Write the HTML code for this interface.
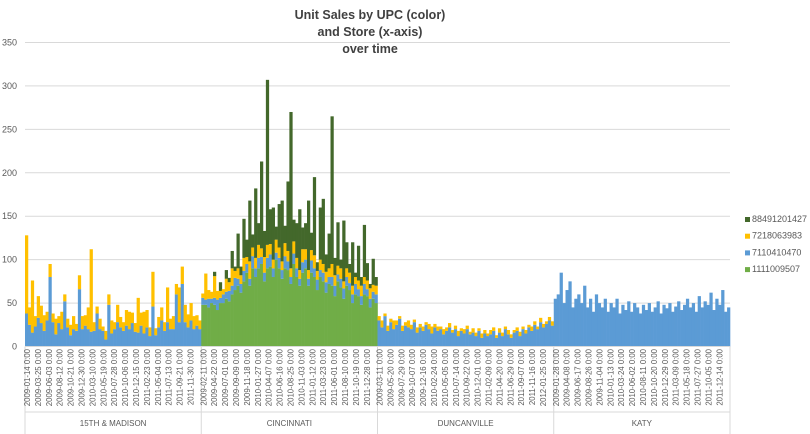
<!DOCTYPE html>
<html><head><meta charset="utf-8"><style>
body{margin:0;background:#fff;}
svg{display:block;font-family:"Liberation Sans",sans-serif;}
</style></head><body>
<svg id="chart" width="810" height="434">
<g font-weight="bold" font-size="12.5" fill="#404040" text-anchor="middle">
<text x="370" y="19">Unit Sales by UPC (color)</text>
<text x="370" y="36">and Store (x-axis)</text>
<text x="370" y="53">over time</text>
</g>
<g id="grid"></g>
<g id="yticks" font-size="9" fill="#595959" text-anchor="end"></g>
<g id="bars"></g>
<g id="xaxis"></g>
<g id="legend" font-size="9" fill="#595959"></g>
</svg>
<script>
const stores=["15TH & MADISON","CINCINNATI","DUNCANVILLE","KATY"];
const storeStartDates=["2009-01-14","2009-02-11","2009-03-11","2009-01-28"];
const seriesNames=["88491201427","7218063983","7110410470","1111009507"];
const yTicks=[0,50,100,150,200,250,300,350];
// per store: [green 1111009507, blue 7110410470, yellow 7218063983, darkgreen 88491201427]
const madGreen=new Array(60).fill(0);
const madBlue=[38,25,16,23,33,27,18,30,80,28,14,27,20,52,22,13,20,18,66,20,24,20,17,18,38,20,18,8,48,15,20,28,22,18,24,20,27,17,16,24,15,22,12,46,13,22,30,18,28,20,20,60,28,72,28,22,30,20,24,20];
const madYellow=[90,20,60,12,25,20,18,10,15,10,18,8,20,8,10,12,15,8,16,15,12,25,95,10,8,12,5,10,12,15,8,20,12,10,18,20,12,10,40,15,25,20,10,40,8,12,15,10,40,12,15,12,40,20,20,15,20,15,12,10];
const madDark=new Array(60).fill(0);
const cinGreen=[48,48,45,50,48,42,50,50,55,52,60,65,70,62,75,85,70,90,80,90,95,75,90,92,80,100,90,78,90,88,72,95,80,70,85,90,70,85,80,65,80,75,62,72,70,58,75,68,55,70,65,50,60,58,48,60,58,45,55,50];
const cinBlue=[8,6,10,5,8,12,6,10,8,12,10,14,8,10,12,10,8,14,10,12,8,10,12,14,10,8,12,10,14,10,8,12,10,8,12,10,8,14,10,12,8,10,12,8,10,12,8,10,12,10,8,10,12,8,10,12,8,10,8,10];
const cinYellow=[5,30,10,8,25,10,8,6,15,10,20,8,12,10,15,8,20,10,12,15,10,18,15,12,10,15,12,10,15,12,10,14,12,10,15,12,10,12,15,10,12,10,12,10,15,12,10,12,8,10,12,10,8,10,12,8,10,12,8,10];
const cinDark=[0,0,0,0,5,0,10,0,10,5,20,5,40,10,45,20,70,15,80,25,100,30,190,40,60,15,50,70,20,80,180,25,40,70,25,30,80,20,90,10,60,75,20,40,170,20,50,10,70,30,10,50,5,40,10,60,20,5,30,10];
const dunGreen=new Array(60).fill(0);
const dunBlue=[30,22,35,18,28,20,25,32,18,24,22,20,28,16,22,18,25,20,15,22,18,20,14,18,22,16,20,12,18,15,20,14,16,12,18,10,15,12,14,18,10,16,12,20,14,10,16,18,12,20,15,22,18,25,20,28,22,26,30,24];
const dunYellow=[5,8,3,6,4,10,5,3,6,4,8,5,3,6,4,5,3,6,8,4,5,3,6,4,5,3,4,6,3,5,4,3,5,4,3,5,4,3,5,4,3,5,4,3,5,4,3,4,5,3,4,3,5,4,3,5,4,3,4,5];
const dunDark=new Array(60).fill(0);
const katyGreen=new Array(60).fill(0);
const katyBlue=[55,60,85,50,65,75,45,55,60,50,70,45,55,40,60,50,45,55,40,50,45,55,38,48,42,52,40,50,45,38,48,42,50,40,45,52,38,48,44,50,40,46,52,42,48,55,45,50,40,58,45,52,48,62,42,55,48,65,40,45];
const katyYellow=new Array(60).fill(0);
const katyDark=new Array(60).fill(0);
const storeData=[[madGreen,madBlue,madYellow,madDark],[cinGreen,cinBlue,cinYellow,cinDark],[dunGreen,dunBlue,dunYellow,dunDark],[katyGreen,katyBlue,katyYellow,katyDark]];

const NS="http://www.w3.org/2000/svg";
const X0=25,X1=730,Y0=346.5,YMAX=350,YTOP=42.5;
const storeW=(X1-X0)/4;
const colors=["#70ad47","#5b9bd5","#ffc000","#43682b"];
function y(v){return Y0-(v/YMAX)*(Y0-YTOP);}
function mk(tag,attrs,parent){const e=document.createElementNS(NS,tag);for(const k in attrs)e.setAttribute(k,attrs[k]);parent.appendChild(e);return e;}

const grid=document.getElementById('grid'),yt=document.getElementById('yticks');
yTicks.forEach(t=>{
  if(t>0){const l=mk('line',{x1:X0,x2:X1,y1:y(t),y2:y(t),stroke:'#d9d9d9','stroke-width':1},grid);
  
  }
  const tx=mk('text',{x:17,y:y(t)+3},yt);tx.textContent=t;
  
  
});

const bars=document.getElementById('bars');
storeData.forEach((sd,s)=>{
  const n=sd[0].length,bw=storeW/n;
  for(let i=0;i<n;i++){
    let acc=0;
    for(let k=0;k<4;k++){
      const v=sd[k][i];if(!v)continue;
      const r=mk('rect',{x:X0+s*storeW+i*bw,y:y(acc+v),width:bw+0.3,height:y(acc)-y(acc+v),fill:colors[k]},bars);
      
      
      acc+=v;
    }
  }
});

const xa=document.getElementById('xaxis');
mk('line',{x1:X0,x2:X1,y1:Y0,y2:Y0,stroke:'#d9d9d9'},xa);
for(let s=0;s<=4;s++){mk('line',{x1:X0+s*storeW,x2:X0+s*storeW,y1:Y0,y2:434,stroke:'#d9d9d9'},xa);}
mk('line',{x1:X0,x2:X1,y1:412,y2:412,stroke:'#d9d9d9'},xa);
stores.forEach((st,s)=>{
  const t=mk('text',{x:X0+s*storeW+storeW/2,y:426,'font-size':8,fill:'#595959','text-anchor':'middle'},xa);
  t.textContent=st;
  
  
  const d0=new Date(storeStartDates[s]+"T00:00:00Z");
  for(let j=0;j<16;j++){
    const d=new Date(d0.getTime()+j*70*86400000);
    const lab=d.toISOString().slice(0,10)+' 0:00';
    const x=X0+s*storeW+5+j*10.9;
    const tl=mk('text',{x:0,y:0,'font-size':7.8,fill:'#595959','text-anchor':'end',transform:`translate(${x},349) rotate(-90)`},xa);
    tl.textContent=lab;
    
    
  }
});

const lg=document.getElementById('legend');
const legendColors=["#43682b","#ffc000","#5b9bd5","#70ad47"];
seriesNames.forEach((nm,i)=>{
  const yy=222+i*16.7;
  const r=mk('rect',{x:745,y:yy-5,width:5,height:5,fill:legendColors[i]},lg);
  
  
  const t=mk('text',{x:752,y:yy},lg);t.textContent=nm;
  
  
});
</script>
</body></html>
